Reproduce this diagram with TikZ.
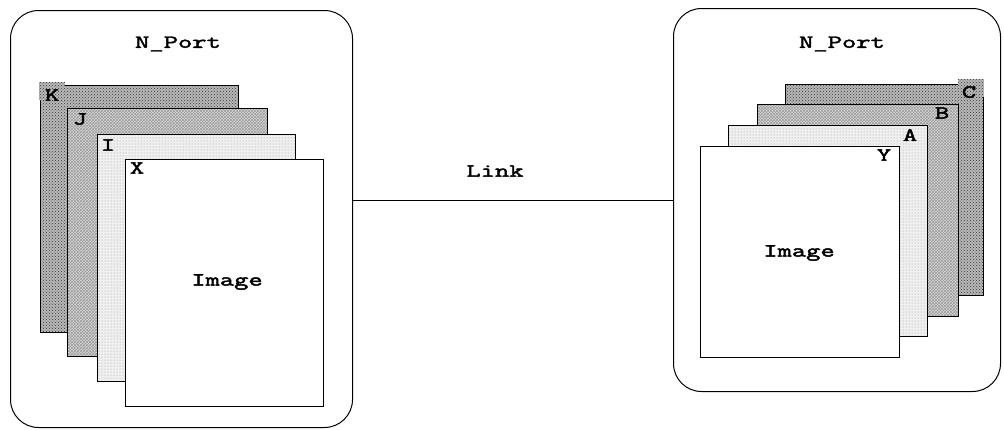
\documentclass[tikz,border=0pt]{standalone}
\usepackage{fontspec}
\newfontfamily\portfont[FakeStretch=1.5, FakeBold=2.5]{Latin Modern Mono}
\usetikzlibrary{patterns}
\begin{document}
\begin{tikzpicture}[x=1pt, y=-1pt,
    every node/.style={font=\portfont\fontsize{18.5}{20}\selectfont},
    portbox/.style={draw, line width=1pt, rounded corners=28, anchor=north west, inner sep=0},
    sheet/.style={draw, line width=1pt, anchor=north west, inner sep=0},
    darksheet/.style={sheet, preaction={fill=gray!55}, pattern=crosshatch dots, pattern color=black!80},
    midsheet/.style={sheet, preaction={fill=gray!30}, pattern=crosshatch, pattern color=gray!80},
    lightsheet/.style={sheet, preaction={fill=gray!12}, pattern=dots, pattern color=gray!80},
    whitesheet/.style={sheet, fill=white},
    darktab/.style={inner sep=0, preaction={fill=gray!55}, pattern=crosshatch dots, pattern color=black!80, minimum width=26, minimum height=18}]
    \useasboundingbox (0,0) rectangle (1004,429);

    % Left port
    \node[portbox, minimum width=342, minimum height=417] (lport) at (10,10) {};
    \node (ltitle) at (178,44) {N\_Port};
    \node[darksheet, minimum width=198, minimum height=247] (lk) at (40,85) {};
    \node[darktab, anchor=north west] (lktab) at (39,82) {};
    \node[midsheet, minimum width=200, minimum height=248] (lj) at (67,108) {};
    \node[lightsheet, minimum width=198, minimum height=247] (li) at (97,134) {};
    \node[whitesheet, minimum width=198, minimum height=247] (lx) at (125,159) {};
    \node (lklabel) at (52,95) {K};
    \node (ljlabel) at (80,119) {J};
    \node (lilabel) at (108,145) {I};
    \node (lxlabel) at (137,168) {X};
    \node (limage) at (227,282) {Image};

    % Right port
    \node[portbox, minimum width=327, minimum height=383] (rport) at (673,8) {};
    \node (rtitle) at (842,44) {N\_Port};
    \node[darksheet, minimum width=198, minimum height=211] (rc) at (785,84) {};
    \node[darktab, anchor=north east] (rctab) at (984,79) {};
    \node[midsheet, minimum width=201, minimum height=212] (rb) at (757,104) {};
    \node[lightsheet, minimum width=199, minimum height=211] (ra) at (728,125) {};
    \node[whitesheet, minimum width=199, minimum height=211] (ry) at (700,146) {};
    \node (rclabel) at (969,92) {C};
    \node (rblabel) at (942,113) {B};
    \node (ralabel) at (910,135) {A};
    \node (rylabel) at (884,155) {Y};
    \node (rimage) at (799,253) {Image};

    % Link
    \draw[line width=0.8pt] (rport.west) -- (rport.west -| lport.east);
    \node (link) at (495,171) {Link};
\end{tikzpicture}
\end{document}
